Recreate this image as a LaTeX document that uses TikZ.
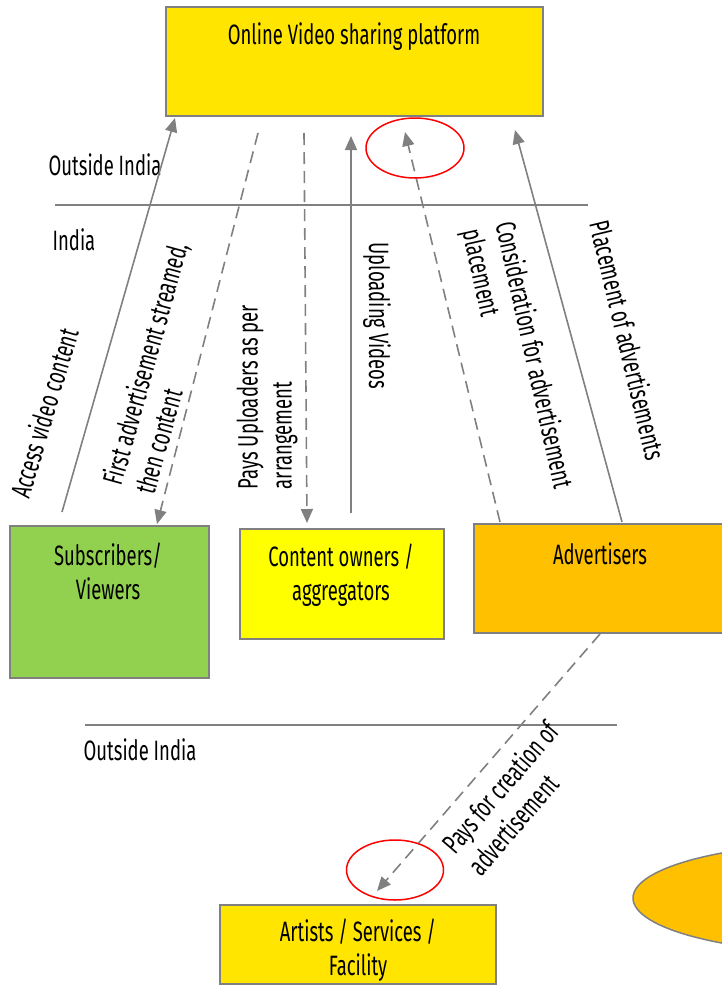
\documentclass[tikz,border=0pt]{standalone}
\usepackage{fontspec}
\setmainfont[FakeStretch=0.66]{Fira Sans}
\usetikzlibrary{arrows.meta,shapes.geometric}
\definecolor{topyellow}{HTML}{FFE500}
\definecolor{viewgreen}{HTML}{92D050}
\definecolor{ownyellow}{HTML}{FFFF00}
\definecolor{advorange}{HTML}{FFC000}
\definecolor{flowgray}{HTML}{808080}

\begin{document}
\begin{tikzpicture}[x=1pt,y=-1pt,
  box/.style={draw=flowgray, line width=1.5pt, inner sep=0pt},
  flow/.style={draw=flowgray, line width=1.6pt, -{Triangle[length=14pt,width=12pt]}},
  money/.style={flow, dash pattern=on 12pt off 7pt},
  border/.style={draw=flowgray, line width=1.5pt},
  txt/.style={font=\fontsize{28}{34}\selectfont, align=center, inner sep=0pt},
  side/.style={font=\fontsize{28}{34}\selectfont, align=left, inner sep=0pt},
  ring/.style={ellipse, draw=red, line width=1.5pt, inner sep=0pt}
]
\useasboundingbox (0,0) rectangle (722,986);
\begin{scope}
\clip (0,0) rectangle (722,986);

% parties
\node[box, fill=topyellow, minimum width=377pt, minimum height=109pt] (platform) at (354.5,61.5) {};
\node[box, fill=viewgreen, minimum width=199pt, minimum height=152pt] (viewers) at (109.5,602) {};
\node[box, fill=ownyellow, minimum width=204pt, minimum height=110pt] (owners) at (342,584) {};
\node[box, fill=advorange, minimum width=266pt, minimum height=109pt] (advertisers) at (607,578.5) {};
\node[box, fill=topyellow, minimum width=276pt, minimum height=79pt] (artists) at (358,944.5) {};
\node[ellipse, draw=flowgray, line width=1.5pt, fill=advorange, minimum width=418pt, minimum height=110pt] (blob) at (842,898) {};

\node[txt] (platformtxt) at (354,37) {Online Video sharing platform};
\node[txt] (viewerstxt) at (108,571) {Subscribers/\\Viewers};
\node[txt] (ownerstxt) at (341,575) {Content owners /\\aggregators};
\node[txt] (advertiserstxt) at (600,554) {Advertisers};
\node[txt] (artiststxt) at (358,950) {Artists / Services /\\Facility};

% jurisdiction borders
\coordinate (b1w) at (55,205);  \coordinate (b1e) at (588,205);
\coordinate (b2w) at (85,725);  \coordinate (b2e) at (617,725);
\draw[border] (b1w) -- (b1e);
\draw[border] (b2w) -- (b2e);
\node[txt] (outside1) at (105,165) {Outside India};
\node[txt] (india) at (74,240) {India};
\node[txt] (outside2) at (140,750) {Outside India};

% flow end points
\coordinate (a1s) at (62,512);  \coordinate (a1e) at (175,118);
\coordinate (a2s) at (258,133); \coordinate (a2e) at (157,524);
\coordinate (a3s) at (304,133); \coordinate (a3e) at (307,523);
\coordinate (a4s) at (351,513); \coordinate (a4e) at (351,136);
\coordinate (a5s) at (500,522); \coordinate (a5e) at (405,132);
\coordinate (a6s) at (622,522); \coordinate (a6e) at (515,130);
\coordinate (a7s) at (600,634); \coordinate (a7e) at (377,891);

\draw[flow]  (a1s) -- (a1e);
\draw[money] (a2s) -- (a2e);
\draw[money] (a3s) -- (a3e);
\draw[flow]  (a4s) -- (a4e);
\draw[money] (a5s) -- (a5e);
\draw[flow]  (a6s) -- (a6e);
\draw[money] (a7s) -- (a7e);

% flow labels
\node[side, rotate=73.5] (l1) at (44,413) {Access video content};
\node[side, rotate=74.5] (l2) at (161,368) {First advertisement streamed,\\then content};
\node[side, rotate=90] (l3) at (267,397) {Pays Uploaders as per\\arrangement};
\node[side, rotate=-90] (l4) at (377,316) {Uploading Videos};
\node[side, rotate=-77.5] (l5) at (516,359) {Consideration for advertisement\\placement};
\node[side, rotate=-76.5] (l6) at (628,340) {Placement of advertisements};
\node[side, rotate=49.4] (l7) at (513,798) {Pays for creation of\\advertisement};

% highlighted arrow heads
\node[ring, minimum width=98pt, minimum height=60pt] (ring1) at (415,148) {};
\node[ring, minimum width=97pt, minimum height=60pt] (ring2) at (395,870) {};
\end{scope}
\end{tikzpicture}
\end{document}
